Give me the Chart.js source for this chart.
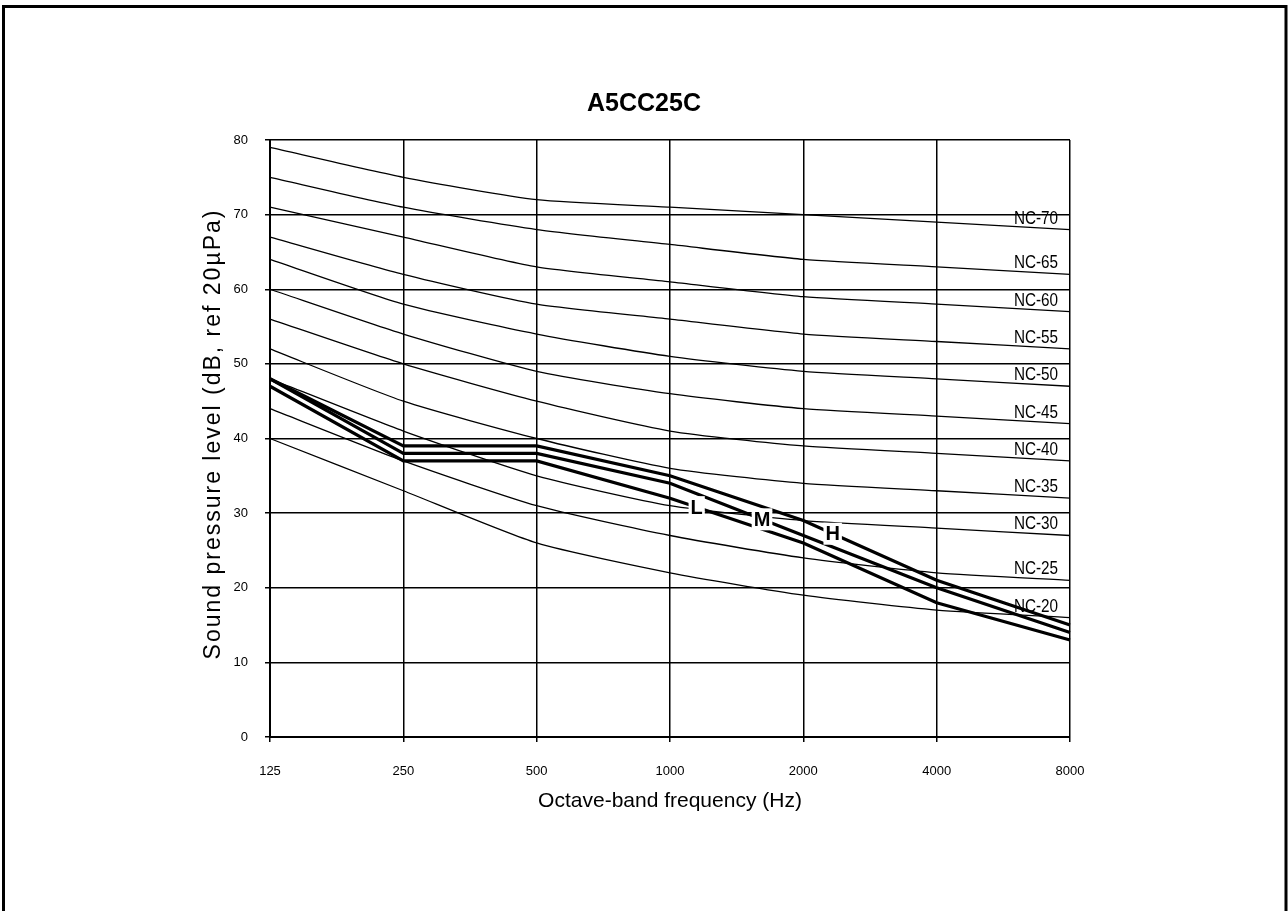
<!DOCTYPE html>
<html>
<head>
<meta charset="utf-8">
<title>A5CC25C</title>
<script src="https://cdn.jsdelivr.net/npm/chart.js@4.4.1/dist/chart.umd.min.js"></script>
<style>
  body { margin: 0; background: #fff; }
  canvas { display: block; }
</style>
</head>
<body>
<canvas id="ncChart" width="1288" height="911"></canvas>
<script>
// octave bands shown on the x axis
const freqLabels = ['125', '250', '500', '1000', '2000', '4000', '8000'];

// NC reference curves (dB)
const nc20 = [40, 33, 26, 22, 19, 17, 16];
const nc25 = [44, 37, 31, 27, 24, 22, 21];
const nc30 = [48, 41, 35, 31, 29, 28, 27];
const nc35 = [52, 45, 40, 36, 34, 33, 32];
const nc40 = [56, 50, 45, 41, 39, 38, 37];
const nc45 = [60, 54, 49, 46, 44, 43, 42];
const nc50 = [64, 58, 54, 51, 49, 48, 47];
const nc55 = [67, 62, 58, 56, 54, 53, 52];
const nc60 = [71, 67, 63, 61, 59, 58, 57];
const nc65 = [75, 71, 68, 66, 64, 63, 62];
const nc70 = [79, 75, 72, 71, 70, 69, 68];

// unit sound levels per fan speed (dB)
const unitH = [48, 39, 39, 35, 29, 21, 15];
const unitM = [48, 38, 38, 34, 27, 20, 14];
const unitL = [47, 37, 37, 32, 26, 18, 13];

const ncCurves = [
    ['NC-20', nc20], ['NC-25', nc25], ['NC-30', nc30], ['NC-35', nc35],
    ['NC-40', nc40], ['NC-45', nc45], ['NC-50', nc50], ['NC-55', nc55],
    ['NC-60', nc60], ['NC-65', nc65], ['NC-70', nc70]
];
const speedCurves = [['H', unitH], ['M', unitM], ['L', unitL]];

// where the tags sit along the x axis (band index, fractional)
const ncTagAt = 5.73;
const speedTagAt = { L: 3.2, M: 3.69, H: 4.22 };

function valueAt(arr, pos) {
    const i = Math.min(Math.floor(pos), arr.length - 2);
    const t = pos - i;
    return arr[i] + (arr[i + 1] - arr[i]) * t;
}

const datasets = [];
ncCurves.forEach(([name, values]) => {
    datasets.push({
        label: name,
        data: values,
        borderColor: '#000',
        borderWidth: 1.3,
        pointRadius: 0,
        tension: 0.2,
        fill: false
    });
});
speedCurves.forEach(([name, values]) => {
    datasets.push({
        label: name,
        data: values,
        borderColor: '#000',
        borderWidth: 3.2,
        pointRadius: 0,
        tension: 0,
        fill: false
    });
});

const annotations = {
    id: 'annotations',
    afterDatasetsDraw(chart) {
        const ctx = chart.ctx;
        const x = chart.scales.x;
        const y = chart.scales.y;
        ctx.save();

        // NC curve names near the right edge (condensed like Arial Narrow)
        ctx.fillStyle = '#000';
        ctx.font = '18px "Liberation Sans", Arial, sans-serif';
        ctx.textAlign = 'center';
        ctx.textBaseline = 'alphabetic';
        ncCurves.forEach(([name, values]) => {
            const px = x.getPixelForValue(ncTagAt);
            const py = y.getPixelForValue(valueAt(values, ncTagAt));
            ctx.save();
            ctx.translate(px + 2, py - 4);
            ctx.scale(0.85, 1);
            ctx.fillText(name, 0, 0);
            ctx.restore();
        });

        // fan speed tags with white boxes
        ctx.font = 'bold 20px "Liberation Sans", Arial, sans-serif';
        ctx.textBaseline = 'middle';
        speedCurves.forEach(([name, values]) => {
            const pos = speedTagAt[name];
            const px = x.getPixelForValue(pos);
            const py = y.getPixelForValue(valueAt(values, pos));
            const w = ctx.measureText(name).width + 4;
            ctx.fillStyle = '#fff';
            ctx.fillRect(px - w / 2, py - 11, w, 22);
            ctx.fillStyle = '#000';
            ctx.fillText(name, px, py + 1);
        });
        ctx.restore();
    },
    afterDraw(chart) {
        const ctx = chart.ctx;
        ctx.save();
        // chart title
        ctx.fillStyle = '#000';
        ctx.font = 'bold 25px "Liberation Sans", Arial, sans-serif';
        ctx.textAlign = 'center';
        ctx.textBaseline = 'middle';
        ctx.fillText('A5CC25C', 644, 104);

        // y axis title, spaced out like the original
        ctx.font = '23px "Liberation Sans", Arial, sans-serif';
        ctx.letterSpacing = '2px';
        ctx.translate(214, 434);
        ctx.rotate(-Math.PI / 2);
        ctx.fillText('Sound pressure level (dB, ref 20µPa)', 0, 0);
        ctx.restore();

        // outer frame
        ctx.save();
        ctx.strokeStyle = '#000';
        ctx.lineWidth = 3;
        ctx.beginPath();
        ctx.moveTo(3.5, 915);
        ctx.lineTo(3.5, 6.5);
        ctx.lineTo(1286, 6.5);
        ctx.lineTo(1286, 915);
        ctx.stroke();
        ctx.restore();
    }
};

const ctx = document.getElementById('ncChart').getContext('2d');
new Chart(ctx, {
    type: 'line',
    data: {
        labels: freqLabels,
        datasets: datasets
    },
    options: {
        responsive: false,
        animation: false,
        devicePixelRatio: 1,
        layout: {
            padding: { left: 190, right: 218, top: 140, bottom: 94 }
        },
        plugins: {
            legend: { display: false },
            tooltip: { enabled: false },
            title: { display: false }
        },
        scales: {
            x: {
                type: 'category',
                offset: false,
                afterFit: scale => { scale.height = 80; },
                grid: {
                    color: '#000',
                    lineWidth: 1.5,
                    tickLength: 5,
                    tickColor: '#000'
                },
                border: { color: '#000', width: 2 },
                ticks: {
                    color: '#000',
                    padding: 22,
                    maxRotation: 0,
                    autoSkip: false,
                    font: { family: '"Liberation Sans", Arial', size: 13 }
                },
                title: {
                    display: true,
                    text: 'Octave-band frequency (Hz)',
                    color: '#000',
                    padding: { top: 0, bottom: 3 },
                    font: { family: '"Liberation Sans", Arial', size: 21 }
                }
            },
            y: {
                min: 0,
                max: 80,
                afterFit: scale => { scale.width = 80; },
                grid: {
                    color: '#000',
                    lineWidth: 1.5,
                    tickLength: 5,
                    tickColor: '#000'
                },
                border: { color: '#000', width: 2 },
                ticks: {
                    stepSize: 10,
                    color: '#000',
                    padding: 17,
                    font: { family: '"Liberation Sans", Arial', size: 13 }
                },
                title: { display: false }
            }
        }
    },
    plugins: [annotations]
});
</script>
</body>
</html>
